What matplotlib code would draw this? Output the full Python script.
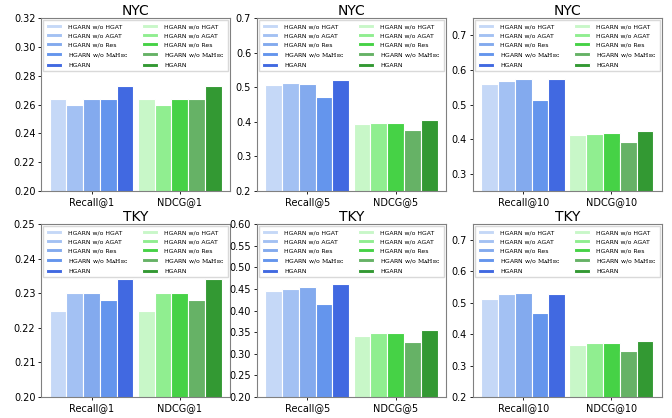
import numpy as np
import matplotlib
matplotlib.use("Agg")
import matplotlib.pyplot as plt

plt.rcParams['mathtext.fontset'] = 'dejavuserif'

# variants of the model, same order in every group
variants = ["HGARN w/o HGAT", "HGARN w/o AGAT", "HGARN w/o Res",
            r"HGARN w/o $\mathrm{MᴀHᴇᴄ}$", "HGARN"]
blue_colors = ["#c5d8f7", "#a3c1f3", "#83aaee", "#6495ed", "#4169e1"]
green_colors = ["#c8f7c8", "#90ee90", "#46d246", "#66b266", "#339933"]

cities = ["NYC", "TKY"]
ks = [1, 5, 10]

# recall / ndcg values per (city, k)
nyc_recall_1 = [0.264, 0.260, 0.264, 0.264, 0.273]
nyc_ndcg_1 = [0.264, 0.260, 0.264, 0.264, 0.273]
nyc_recall_5 = [0.507, 0.512, 0.510, 0.472, 0.520]
nyc_ndcg_5 = [0.395, 0.397, 0.396, 0.377, 0.405]
nyc_recall_10 = [0.558, 0.568, 0.575, 0.514, 0.575]
nyc_ndcg_10 = [0.412, 0.415, 0.417, 0.391, 0.423]

tky_recall_1 = [0.225, 0.230, 0.230, 0.228, 0.234]
tky_ndcg_1 = [0.225, 0.230, 0.230, 0.228, 0.234]
tky_recall_5 = [0.444, 0.450, 0.455, 0.414, 0.461]
tky_ndcg_5 = [0.341, 0.347, 0.349, 0.328, 0.355]
tky_recall_10 = [0.511, 0.527, 0.532, 0.468, 0.527]
tky_ndcg_10 = [0.364, 0.371, 0.373, 0.345, 0.377]

recall = [[nyc_recall_1, nyc_recall_5, nyc_recall_10],
          [tky_recall_1, tky_recall_5, tky_recall_10]]
ndcg = [[nyc_ndcg_1, nyc_ndcg_5, nyc_ndcg_10],
        [tky_ndcg_1, tky_ndcg_5, tky_ndcg_10]]

ylims = [[(0.20, 0.32), (0.2, 0.7), (0.25, 0.75)],
         [(0.20, 0.25), (0.20, 0.60), (0.2, 0.75)]]
yticks = [[np.arange(0.20, 0.321, 0.02), np.arange(0.2, 0.71, 0.1), np.arange(0.3, 0.71, 0.1)],
          [np.arange(0.20, 0.251, 0.01), np.arange(0.20, 0.601, 0.05), np.arange(0.2, 0.71, 0.1)]]
yfmt = [["%.2f", "%.1f", "%.1f"], ["%.2f", "%.2f", "%.1f"]]

fig, axes = plt.subplots(2, 3, figsize=(6.72, 4.18), dpi=100)
plt.subplots_adjust(left=0.061, right=0.985, top=0.957, bottom=0.05, wspace=0.14, hspace=0.19)

width = 0.19
for i, city in enumerate(cities):
    for j, k in enumerate(ks):
        ax = axes[i, j]
        handles_b, handles_g = [], []
        for v in range(5):
            off = (v - 2) * width
            hb = ax.bar(0 + off, recall[i][j][v], width, color=blue_colors[v],
                        edgecolor="white", linewidth=0.8)
            handles_b.append(hb)
        for v in range(5):
            off = (v - 2) * width
            hg = ax.bar(1 + off, ndcg[i][j][v], width, color=green_colors[v],
                        edgecolor="white", linewidth=0.8)
            handles_g.append(hg)
        ax.set_xticks([0, 1])
        ax.set_xticklabels([f"Recall@{k}", f"NDCG@{k}"], fontsize=7)
        ax.set_ylim(*ylims[i][j])
        ax.set_yticks(yticks[i][j])
        ax.set_yticklabels([yfmt[i][j] % t for t in yticks[i][j]], fontsize=7)
        ax.tick_params(length=2, width=0.6, pad=2)
        ax.set_title(city, fontsize=10, pad=2)
        for s in ax.spines.values():
            s.set_color("#808080")
            s.set_linewidth(0.8)
        ax.legend(handles_b + handles_g, variants + variants, ncol=2, fontsize=4.4,
                  loc="upper center", frameon=True, framealpha=0.8, edgecolor="#d0d0d0",
                  handlelength=2.6, handleheight=0.7, labelspacing=0.62,
                  columnspacing=2.2, borderpad=0.55, borderaxespad=0.4,
                  handletextpad=1.0, fancybox=False)

plt.savefig("out.png", dpi=100)
plt.close()
